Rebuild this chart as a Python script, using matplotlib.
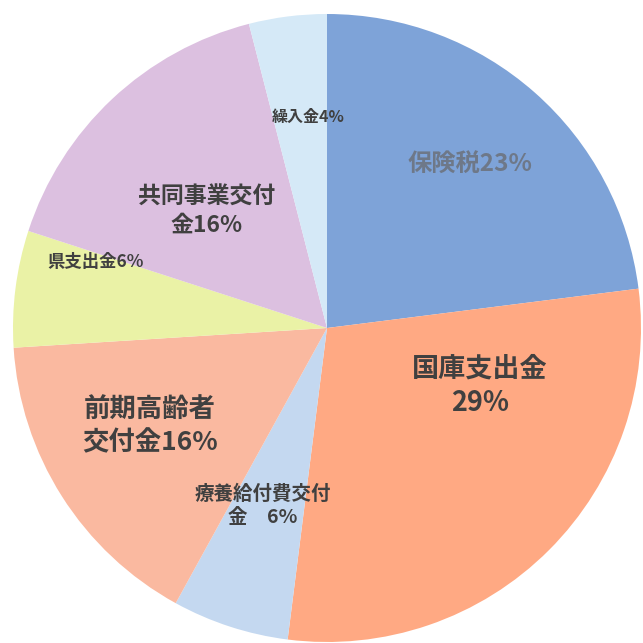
import matplotlib
matplotlib.use("Agg")
import matplotlib.pyplot as plt

plt.rcParams['font.family'] = ['Noto Sans CJK JP', 'DejaVu Sans']

categories = ["保険税", "国庫支出金", "療養給付費交付金", "前期高齢者交付金",
              "県支出金", "共同事業交付金", "繰入金"]
shares = [23, 29, 6, 16, 6, 16, 4]
colors = ["#7ea3d8", "#ffa983", "#c4d8f0", "#fab9a0", "#eaf2a6", "#dcc0e0", "#d5e9f7"]
label_texts = ["保険税23%", "国庫支出金\n29%", "療養給付費交付\n金　6%", "前期高齢者\n交付金16%",
               "県支出金6%", "共同事業交付\n金16%", "繰入金4%"]

W = H = 643
cx, cy, r = 327, 328, 314

fig = plt.figure(figsize=(6.43, 6.43), dpi=100)
ax = fig.add_axes([0, 0, 1, 1])
ax.pie(shares, colors=colors, startangle=90, counterclock=False,
       radius=1, center=(0, 0), wedgeprops=dict(linewidth=0))
ax.set_xlim(-cx / r, (W - cx) / r)
ax.set_ylim(-(H - cy) / r, cy / r)
ax.set_aspect('auto')
ax.axis('off')

# label placement (pixel coords) and sizes
label_pos = [(470, 165), (480, 386), (263, 506), (150, 426), (96, 262), (207, 211), (308, 117)]
label_size = [17.5, 19.5, 14, 19, 12.5, 16.5, 11.5]
label_col = ["#6e7888", "#404040", "#404040", "#404040", "#404040", "#404040", "#404040"]

for t, (px, py), fs, c in zip(label_texts, label_pos, label_size, label_col):
    ax.text(px / W, 1 - py / H, t, transform=ax.transAxes, ha='center', va='center',
            fontsize=fs, color=c, fontweight='bold', linespacing=1.3)

fig.savefig("out.png", dpi=100, facecolor="white")
